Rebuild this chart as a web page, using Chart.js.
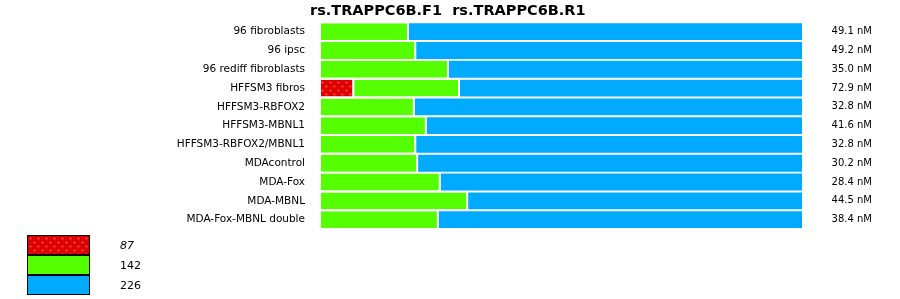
<!DOCTYPE html>
<html>
<head>
<meta charset="utf-8">
<script src="https://cdn.jsdelivr.net/npm/chart.js@4.4.1/dist/chart.umd.min.js"></script>
<style>
  html, body { margin: 0; padding: 0; background: #fff; }
  #wrap { width: 900px; height: 299px; position: relative; }
</style>
</head>
<body>
<div id="wrap"><canvas id="grafico"></canvas></div>
<script>
const amostras = [
  "96 fibroblasts", "96 ipsc", "96 rediff fibroblasts", "HFFSM3 fibros",
  "HFFSM3-RBFOX2", "HFFSM3-MBNL1", "HFFSM3-RBFOX2/MBNL1", "MDAcontrol",
  "MDA-Fox", "MDA-MBNL", "MDA-Fox-MBNL double"
];
// fracao (%) de cada produto por amostra
const frac87 = [0, 0, 0, 6.9, 0, 0, 0, 0, 0, 0, 0];
const frac142 = [18.3, 19.8, 26.6, 22.0, 19.5, 22.0, 19.8, 20.2, 24.9, 30.6, 24.5];
const frac226 = [81.7, 80.2, 73.4, 71.1, 80.5, 78.0, 80.2, 79.8, 75.1, 69.4, 75.5];
const concentracoes = ["49.1 nM", "49.2 nM", "35.0 nM", "72.9 nM", "32.8 nM", "41.6 nM",
  "32.8 nM", "30.2 nM", "28.4 nM", "44.5 nM", "38.4 nM"];
const tamanhos = ["87", "142", "226"];
const titulo = "rs.TRAPPC6B.F1  rs.TRAPPC6B.R1";

const fonte = "'DejaVu Sans', sans-serif";

function padraoVermelho() {
  const c = document.createElement("canvas");
  c.width = 8;
  c.height = 8;
  const g = c.getContext("2d");
  g.fillStyle = "#dd0000";
  g.fillRect(0, 0, 8, 8);
  g.fillStyle = "#ff3030";
  [[2, 2], [6, 6]].forEach(([x, y]) => {
    g.fillRect(x - 1, y, 3, 1);
    g.fillRect(x, y - 1, 1, 3);
  });
  return g.createPattern(c, "repeat");
}

const corVermelha = padraoVermelho();

// titulo, concentracoes a direita e legenda em blocos
const extras = {
  id: "extras",
  afterDraw(chart) {
    const ctx = chart.ctx;
    const area = chart.chartArea;
    const y = chart.scales.y;
    ctx.save();

    ctx.fillStyle = "#000";
    ctx.font = "bold 14.5px " + fonte;
    ctx.textAlign = "left";
    ctx.textBaseline = "alphabetic";
    ctx.fillText(titulo, area.left - 11, 15);

    ctx.font = "10px " + fonte;
    ctx.textAlign = "right";
    ctx.textBaseline = "middle";
    concentracoes.forEach((txt, i) => {
      ctx.fillText(txt, area.right + 70, y.getPixelForValue(i));
    });

    const ds = chart.data.datasets;
    ds.forEach((d, i) => {
      const top = 235 + i * 20;
      ctx.fillStyle = d.backgroundColor;
      ctx.fillRect(27, top, 63, 20);
      ctx.strokeStyle = "#000";
      ctx.lineWidth = 1;
      ctx.strokeRect(27.5, top + 0.5, 62, 19);
      ctx.fillStyle = "#000";
      ctx.font = (i === 0 ? "italic " : "") + "11px " + fonte;
      ctx.textAlign = "left";
      ctx.fillText(d.label, 120, top + 11);
    });
    ctx.restore();
  }
};

const cores = [corVermelha, "#55ff00", "#00aaff"];
const series = [frac87, frac142, frac226];

new Chart(document.getElementById("grafico"), {
  type: "bar",
  data: {
    labels: amostras,
    datasets: series.map((valores, i) => ({
      label: tamanhos[i],
      data: valores,
      backgroundColor: cores[i],
      borderColor: "#fff",
      borderWidth: i < 2 ? { right: 2, left: 0, top: 0, bottom: 0 } : 0,
      borderSkipped: false,
      categoryPercentage: 1,
      barPercentage: 17 / 19
    }))
  },
  options: {
    indexAxis: "y",
    responsive: true,
    maintainAspectRatio: false,
    animation: false,
    layout: { padding: { top: 20, right: 98, bottom: 70, left: 0 } },
    plugins: {
      legend: { display: false },
      tooltip: { enabled: false }
    },
    scales: {
      x: { stacked: true, min: 0, max: 100, display: false },
      y: {
        stacked: true,
        grid: { display: false, drawTicks: false },
        border: { display: false },
        ticks: { color: "#000", padding: 16, font: { family: fonte, size: 10.5 } },
        afterFit(scale) { scale.width = 321; }
      }
    }
  },
  plugins: [extras]
});
</script>
</body>
</html>
